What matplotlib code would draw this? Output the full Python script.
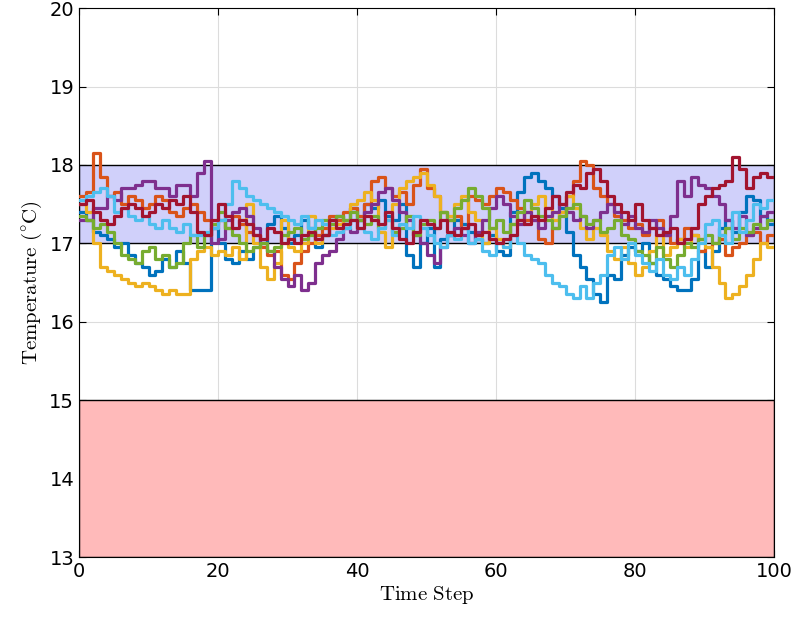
import matplotlib.pyplot as plt
import numpy as np

plt.rcParams['mathtext.fontset'] = 'cm'

steps = np.arange(101)

s_blue = [17.4,17.3,17.15,17.1,17.05,16.95,17.0,16.85,16.75,16.7,
          16.6,16.65,16.8,16.7,16.9,16.75,16.4,16.4,16.4,17.2,
          17.0,16.8,16.75,16.9,16.8,16.95,17.0,17.25,17.35,17.2,
          17.0,17.1,17.3,17.2,16.95,17.1,17.3,17.35,17.25,17.45,
          17.3,17.5,17.45,17.55,17.35,17.3,17.5,16.85,16.7,17.0,
          17.2,16.7,17.05,17.1,17.3,17.25,17.15,17.05,17.0,17.1,
          16.9,16.85,17.4,17.65,17.85,17.9,17.8,17.7,17.6,17.45,
          17.15,16.85,16.7,16.55,16.35,16.25,16.6,16.55,16.85,16.95,
          16.9,17.0,16.75,16.6,16.55,16.45,16.4,16.4,16.55,16.9,
          16.7,16.9,17.2,17.3,17.15,17.4,17.6,17.55,17.35,17.25,
          17.25]
s_orange = [17.6,17.65,18.15,17.85,17.6,17.65,17.5,17.6,17.55,17.45,
            17.5,17.6,17.55,17.4,17.35,17.45,17.5,17.4,17.3,17.2,
            17.3,17.2,17.35,17.25,17.15,17.1,16.95,16.85,16.9,16.6,
            16.55,16.75,16.9,17.0,17.1,17.2,17.35,17.3,17.4,17.45,
            17.35,17.5,17.8,17.85,17.7,17.6,17.65,17.5,17.75,17.95,
            17.7,17.6,17.4,17.3,17.35,17.2,17.6,17.55,17.5,17.6,
            17.7,17.65,17.55,17.45,17.3,17.3,17.05,17.0,17.2,17.4,
            17.6,17.8,18.05,18.0,17.7,17.6,17.5,17.35,17.3,17.2,
            17.25,17.1,17.2,17.3,17.1,17.0,17.05,17.2,17.1,16.9,
            16.95,17.0,17.05,16.85,16.95,17.0,17.1,17.15,17.0,17.1,
            17.1]
s_yellow = [17.5,17.4,17.0,16.7,16.65,16.6,16.55,16.5,16.45,16.5,
            16.45,16.4,16.35,16.4,16.35,16.35,16.8,16.9,16.95,16.85,
            16.9,16.85,16.95,16.8,17.5,17.0,16.7,16.55,16.75,17.3,
            16.95,16.9,17.0,17.35,17.0,17.1,17.2,17.25,17.3,17.5,
            17.55,17.65,17.55,17.15,16.95,17.5,17.7,17.8,17.85,17.9,
            17.75,17.6,17.4,17.35,17.5,17.6,17.4,17.3,17.0,17.2,
            17.05,16.95,17.25,17.3,17.4,17.5,17.6,17.45,17.3,17.4,
            17.6,17.45,17.2,17.05,17.2,17.1,16.9,16.8,16.95,16.75,
            16.6,16.7,16.9,17.1,16.85,16.95,17.05,16.95,17.1,17.05,
            16.95,16.7,16.5,16.3,16.35,16.45,16.6,16.8,17.0,16.95,
            16.95]
s_purple = [17.3,17.3,17.45,17.45,17.6,17.55,17.7,17.7,17.75,17.8,
            17.8,17.7,17.7,17.6,17.75,17.75,17.6,17.9,18.05,17.0,
            17.05,17.3,17.4,17.45,17.35,17.2,17.0,16.9,16.7,16.55,
            16.45,16.6,16.4,16.5,16.75,16.85,16.9,17.05,17.2,17.15,
            17.3,17.4,17.5,17.65,17.7,17.55,17.4,17.3,17.1,17.0,
            16.85,16.75,16.95,17.1,17.2,17.1,17.0,17.15,17.3,17.45,
            17.6,17.5,17.35,17.25,17.4,17.3,17.2,17.35,17.4,17.5,
            17.4,17.3,17.35,17.2,17.3,17.4,17.5,17.4,17.25,17.35,
            17.2,17.15,17.3,17.2,17.1,17.35,17.8,17.6,17.85,17.75,
            17.7,17.6,17.5,17.3,17.2,17.35,17.1,17.2,17.35,17.4,
            17.4]
s_green = [17.35,17.3,17.2,17.25,17.15,17.0,16.85,16.8,16.75,16.9,
           16.95,16.8,16.85,16.7,16.75,17.0,17.1,16.95,17.1,17.25,
           17.4,17.2,17.1,17.0,16.9,16.95,17.0,16.9,16.95,17.1,
           17.15,17.2,17.05,17.1,17.2,17.3,17.25,17.35,17.3,17.4,
           17.3,17.25,17.35,17.2,17.3,17.15,17.2,17.35,17.1,17.25,
           17.3,17.2,17.4,17.3,17.45,17.55,17.7,17.6,17.45,17.2,
           17.3,17.15,17.25,17.4,17.55,17.45,17.35,17.3,17.2,17.35,
           17.45,17.5,17.35,17.25,17.3,17.15,17.2,17.3,17.1,17.05,
           16.9,16.85,16.75,16.95,16.8,16.7,16.85,17.0,16.95,17.05,
           17.1,17.0,17.1,17.2,17.05,17.2,17.15,17.25,17.2,17.3,
           17.3]
s_lightblue = [17.55,17.6,17.65,17.7,17.6,17.4,17.45,17.35,17.3,17.35,
               17.25,17.2,17.3,17.2,17.15,17.25,17.1,17.1,17.15,17.2,
               17.3,17.5,17.8,17.7,17.6,17.55,17.5,17.45,17.4,17.35,
               17.3,17.25,17.35,17.2,17.3,17.25,17.1,17.15,17.2,17.3,
               17.2,17.15,17.05,17.2,17.3,17.1,17.25,17.2,17.35,17.2,
               17.1,17.0,16.95,17.1,17.05,17.2,17.0,17.05,16.9,16.85,
               17.0,16.95,17.1,17.0,16.85,16.8,16.75,16.6,16.5,16.45,
               16.35,16.3,16.45,16.3,16.5,16.6,16.85,16.95,16.8,17.0,
               16.85,16.75,16.65,16.8,16.6,16.55,16.7,16.6,16.8,17.0,
               17.25,17.3,17.1,17.0,17.4,17.15,17.3,17.5,17.45,17.55,
               17.55]
s_darkred = [17.5,17.55,17.4,17.3,17.25,17.35,17.45,17.5,17.45,17.35,
             17.4,17.5,17.45,17.55,17.5,17.6,17.4,17.15,17.1,17.3,
             17.5,17.35,17.2,17.3,17.25,17.1,17.05,17.2,17.15,17.0,
             17.05,17.0,17.1,17.15,17.05,17.1,17.3,17.2,17.25,17.3,
             17.2,17.35,17.3,17.25,17.4,17.2,17.05,17.0,17.15,17.3,
             17.25,17.2,17.3,17.15,17.1,17.2,17.25,17.1,17.15,17.05,
             17.0,17.05,17.1,17.3,17.25,17.35,17.3,17.45,17.6,17.5,
             17.65,17.75,17.7,17.9,17.95,17.8,17.6,17.5,17.4,17.3,
             17.5,17.3,17.2,17.1,17.15,17.2,17.0,17.05,17.2,17.5,
             17.6,17.7,17.75,17.8,18.1,17.95,17.7,17.85,17.9,17.85,
             17.85]

series = [s_blue, s_orange, s_yellow, s_purple, s_green, s_lightblue, s_darkred]
colors = ['#0072BD', '#D95319', '#EDB120', '#7E2F8E', '#77AC30', '#4DBEEE', '#A2142F']

comfort_band = (17, 18)
danger_band = (13, 15)

fig = plt.figure(figsize=(7.94, 6.22), dpi=100)
ax = fig.add_axes([0.0995, 0.1045, 0.8755, 0.8825])

ax.axhspan(*comfort_band, facecolor='#d0d0fa', edgecolor='black', linewidth=1.0, zorder=1)
ax.axhspan(*danger_band, facecolor='#ffbaba', edgecolor='black', linewidth=1.0, zorder=1)

for s, c in zip(series, colors):
    ax.step(steps, s, where='post', color=c, linewidth=2.3, zorder=3)

ax.set_xlim(0, 100)
ax.set_ylim(13, 20)
ax.set_xticks(np.arange(0, 101, 20))
ax.set_yticks(np.arange(13, 21, 1))
ax.grid(True, color='#dcdcdc', linewidth=0.8, zorder=0)
ax.set_axisbelow(True)
ax.tick_params(direction='in', labelsize=14, length=5, top=True, right=True)
for sp in ax.spines.values():
    sp.set_linewidth(0.8)

ax.set_xlabel(r'$\mathrm{Time\ Step}$', fontsize=15, labelpad=2)
ax.set_ylabel(r'$\mathrm{Temperature\ (^{\circ}C)}$', fontsize=15, labelpad=4)

fig.savefig('out.png', dpi=100)
